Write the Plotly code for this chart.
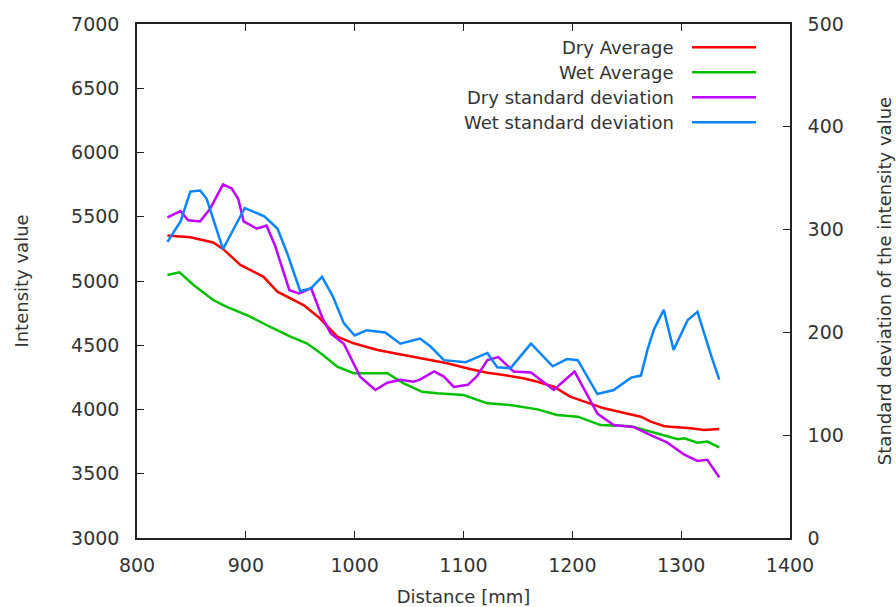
import plotly.graph_objects as go

# Distance positions [mm] and values for each series
dry_avg_x = [828, 849, 870, 879, 895, 916, 929, 953, 968, 978, 984, 999, 1021, 1045, 1060,
             1076, 1085, 1106, 1122, 1137, 1155, 1168, 1183, 1198, 1214, 1229, 1247, 1263,
             1272, 1284, 1290, 1309, 1321, 1335]
dry_avg_y = [5355, 5340, 5300, 5250, 5125, 5034, 4917, 4813, 4710, 4619, 4567, 4515, 4463,
             4424, 4398, 4372, 4360, 4315, 4286, 4268, 4243, 4216, 4177, 4100, 4050, 4009,
             3975, 3944, 3905, 3872, 3866, 3854, 3840, 3848]

wet_avg_x = [828, 839, 852, 870, 882, 901, 922, 941, 956, 970, 984, 999, 1022, 1030, 1045,
             1062, 1076, 1100, 1122, 1143, 1168, 1186, 1205, 1226, 1254, 1275, 1290, 1297,
             1303, 1315, 1324, 1335]
wet_avg_y = [5047, 5068, 4969, 4852, 4800, 4735, 4644, 4567, 4515, 4430, 4333, 4282, 4282,
             4282, 4204, 4138, 4126, 4113, 4048, 4035, 4001, 3957, 3944, 3879, 3870, 3820,
             3788, 3768, 3776, 3742, 3750, 3706]

dry_std_x = [828, 840, 847, 858, 867, 879, 887, 893, 898, 910, 919, 927, 940, 949, 960, 970,
             978, 990, 1005, 1019, 1030, 1042, 1054, 1060, 1073, 1082, 1091, 1104, 1112, 1122,
             1132, 1146, 1162, 1183, 1202, 1212, 1223, 1238, 1256, 1272, 1287, 1303, 1315,
             1324, 1335]
dry_std_y = [312, 318, 309, 308, 320, 344, 340, 330, 308, 301, 304, 284, 241, 238, 243, 215,
             199, 189, 157, 144, 151, 154, 152, 154, 162, 157, 147, 149, 157, 173, 176, 162,
             161, 144, 162, 142, 121, 110, 108, 100, 93, 81, 75, 76, 59]

wet_std_x = [828, 840, 849, 858, 864, 879, 899, 917, 929, 938, 950, 960, 970, 980, 990, 1000,
             1011, 1028, 1042, 1060, 1070, 1082, 1102, 1122, 1131, 1143, 1162, 1182, 1195,
             1205, 1223, 1238, 1254, 1263, 1269, 1275, 1284, 1293, 1306, 1315, 1328, 1335]
wet_std_y = [288, 308, 337, 338, 330, 281, 321, 313, 301, 277, 240, 243, 254, 235, 209, 197,
             202, 200, 189, 194, 186, 173, 171, 180, 166, 165, 189, 167, 174, 173, 140, 144,
             156, 158, 183, 203, 222, 183, 212, 220, 176, 154]

series_names = ["Dry Average", "Wet Average", "Dry standard deviation", "Wet standard deviation"]
series_colors = ["#ff0000", "#00c000", "#c000ff", "#0a85ff"]

FONT = "DejaVu Sans"
TXT = "#333333"
AX = "#222222"

fig = go.Figure()
data = [(dry_avg_x, dry_avg_y, "y"), (wet_avg_x, wet_avg_y, "y"),
        (dry_std_x, dry_std_y, "y2"), (wet_std_x, wet_std_y, "y2")]
for (xs, ys, ax), name, col in zip(data, series_names, series_colors):
    fig.add_trace(go.Scatter(x=xs, y=ys, yaxis=ax, mode="lines", name=name,
                             line=dict(color=col, width=2.5), showlegend=False))

# Key in the upper right: text right-aligned, sample line to its right
for i, (name, col) in enumerate(zip(series_names, series_colors)):
    yk = 0.955 - i * 0.0487
    fig.add_annotation(x=0.826, y=yk, xref="paper", yref="paper", text=name,
                       showarrow=False, xanchor="right", yanchor="middle",
                       font=dict(family=FONT, size=18, color=TXT))
    fig.add_shape(type="line", xref="paper", yref="paper", x0=0.85, x1=0.948,
                  y0=yk, y1=yk, line=dict(color=col, width=2.5))

common = dict(ticks="inside", ticklen=7, tickcolor=AX, showline=True, linecolor=AX,
              linewidth=1.5, showgrid=False, zeroline=False, automargin=False,
              tickfont=dict(size=19))

fig.update_layout(
    width=896, height=607,
    margin=dict(l=137, r=106, t=24, b=69),
    paper_bgcolor="white", plot_bgcolor="white",
    font=dict(family=FONT, size=18, color=TXT),
    xaxis=dict(range=[800, 1400], dtick=100, tick0=800, mirror="ticks",
               ticklabelstandoff=9,
               title=dict(text="Distance [mm]", font=dict(size=18), standoff=18),
               **common),
    yaxis=dict(range=[3000, 7000], dtick=500, tick0=3000, ticklabelstandoff=12,
               title=dict(text="Intensity value", font=dict(size=18), standoff=38),
               **common),
    yaxis2=dict(range=[0, 500], dtick=100, tick0=0, overlaying="y", side="right",
                ticklabelstandoff=12,
                title=dict(text="Standard deviation of the intensity value",
                           font=dict(size=18), standoff=36),
                **common),
)

fig.write_html("out.html")
